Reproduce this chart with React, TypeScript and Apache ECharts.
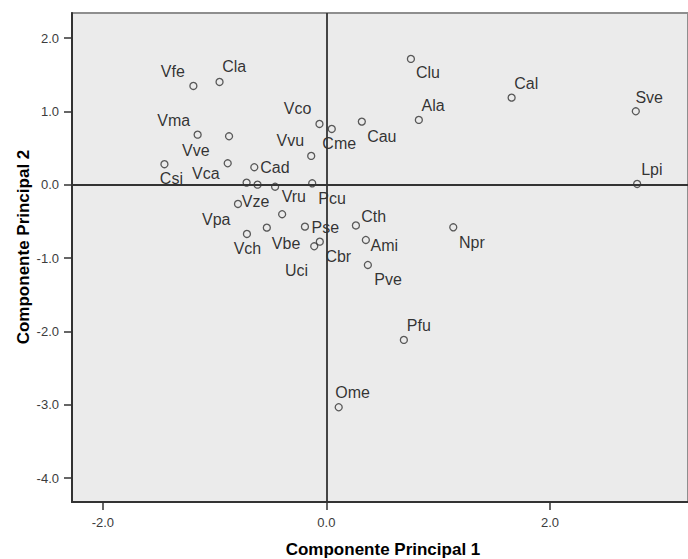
import React, { useEffect, useRef } from "react";
import * as echarts from "echarts";

// Object labels (two points carry no visible label)
const names = [
  "Vfe", "Cla", "Clu", "Cal", "Sve", "Vma", "Vve", "Vco", "Cme", "Cau", "Ala",
  "Vvu", "Csi", "Vca", "Cad", "Lpi", "", "Vze", "Vru", "Pcu", "Vpa", "",
  "Vbe", "Vch", "Pse", "Uci", "Cbr", "Cth", "Ami", "Pve", "Npr", "Pfu", "Ome",
];
// Componente Principal 1
const pc1 = [
  -1.19, -0.956, 0.756, 1.657, 2.768, -1.152, -0.871, -0.062, 0.048, 0.317, 0.827,
  -0.136, -1.449, -0.883, -0.645, 2.78, -0.714, -0.616, -0.459, -0.127, -0.791, -0.396,
  -0.533, -0.711, -0.192, -0.109, -0.059, 0.264, 0.353, 0.371, 1.135, 0.693, 0.11,
];
// Componente Principal 2
const pc2 = [
  1.347, 1.402, 1.716, 1.188, 1.002, 0.683, 0.661, 0.829, 0.761, 0.861, 0.884,
  0.393, 0.28, 0.293, 0.239, 0.011, 0.029, 0.001, -0.027, 0.02, -0.262, -0.402,
  -0.585, -0.671, -0.571, -0.839, -0.776, -0.555, -0.753, -1.094, -0.58, -2.116, -3.034,
];
// Label placement relative to each point (px)
const labelOffsets = [
  [-32.6, -14.3], [2.6, -15.3], [5, 14], [2.6, -14.4], [-0.4, -14], [-40.4, -14],
  [-47, 14.4], [-35.6, -15], [-9.4, 14.7], [5.3, 14.6], [2.7, -14.7], [-34.7, -15.5],
  [-4.6, 14.5], [-35.7, 10.7], [6, 0], [4, -14.7], [0, 0], [-15.7, 16.6], [6.6, 9.9],
  [6, 15], [-36, 16], [0, 0], [5, 15.6], [-13.3, 15], [6.6, 0.8], [-29.3, 24],
  [5.6, 15.3], [5.3, -8.5], [4.7, 6], [6.4, 14.7], [5.7, 15.7], [3, -14], [-3.4, -14.3],
];
const xTicks = [-2, 0, 2];
const yTicks = [2, 1, 0, -1, -2, -3, -4];
const xTitle = "Componente Principal 1";
const yTitle = "Componente Principal 2";

const FONT = "'Liberation Sans', Arial, sans-serif";

export default function App() {
  const ref = useRef<HTMLDivElement>(null);
  useEffect(() => {
    if (!ref.current) return;
    const chart = echarts.init(ref.current, undefined, { renderer: "svg" });
    const data = names.map((n, i) => ({
      name: n,
      value: [pc1[i], pc2[i]],
      label: { offset: labelOffsets[i] },
    }));
    chart.setOption({
      animation: false,
      backgroundColor: "#ffffff",
      textStyle: { fontFamily: FONT },
      grid: {
        left: 72,
        top: 13,
        right: -4,
        bottom: 57,
        show: true,
        backgroundColor: "#ebebeb",
        borderColor: "#8e8e8e",
        borderWidth: 2,
      },
      xAxis: {
        type: "value",
        min: -2.276,
        max: 3.235,
        splitLine: { show: false },
        axisLine: { onZero: false, lineStyle: { color: "#333333", width: 2 } },
        axisTick: {
          show: true,
          length: 8,
          customValues: xTicks,
          lineStyle: { color: "#333333", width: 1.5 },
        },
        axisLabel: {
          customValues: xTicks,
          formatter: (v: number) => v.toFixed(1),
          fontSize: 13,
          color: "#3c3c3c",
          margin: 14,
          fontFamily: FONT,
        },
      },
      yAxis: {
        type: "value",
        min: -4.326,
        max: 2.342,
        splitLine: { show: false },
        axisLine: { onZero: false, lineStyle: { color: "#333333", width: 2 } },
        axisTick: {
          show: true,
          length: 8,
          customValues: yTicks,
          lineStyle: { color: "#333333", width: 1.5 },
        },
        axisLabel: {
          customValues: yTicks,
          formatter: (v: number) => v.toFixed(1),
          fontSize: 13,
          color: "#3c3c3c",
          margin: 13,
          fontFamily: FONT,
        },
      },
      graphic: [
        {
          type: "text",
          x: 383,
          y: 549,
          style: {
            text: xTitle,
            fontSize: 17,
            fontWeight: "bold",
            fontFamily: FONT,
            fill: "#000000",
            textAlign: "center",
            textVerticalAlign: "middle",
          },
        },
        {
          type: "text",
          x: 23,
          y: 247,
          rotation: Math.PI / 2,
          style: {
            text: yTitle,
            fontSize: 17,
            fontWeight: "bold",
            fontFamily: FONT,
            fill: "#000000",
            textAlign: "center",
            textVerticalAlign: "middle",
          },
        },
      ],
      series: [
        {
          type: "scatter",
          symbol: "circle",
          symbolSize: 7,
          itemStyle: {
            color: "rgba(0,0,0,0)",
            borderColor: "#333333",
            borderWidth: 1.3,
          },
          label: {
            show: true,
            position: "inside",
            align: "left",
            verticalAlign: "middle",
            formatter: "{b}",
            fontSize: 16,
            color: "#000000",
            fontFamily: FONT,
          },
          emphasis: { disabled: true },
          markLine: {
            silent: true,
            symbol: "none",
            label: { show: false },
            lineStyle: { color: "#333333", width: 1.8, type: "solid" },
            data: [{ xAxis: 0 }, { yAxis: 0 }],
          },
          data,
          z: 3,
        },
      ],
    });
    return () => chart.dispose();
  }, []);
  return (
    <div
      ref={ref}
      style={{ position: "absolute", left: 0, top: 0, width: 688, height: 559 }}
    />
  );
}
